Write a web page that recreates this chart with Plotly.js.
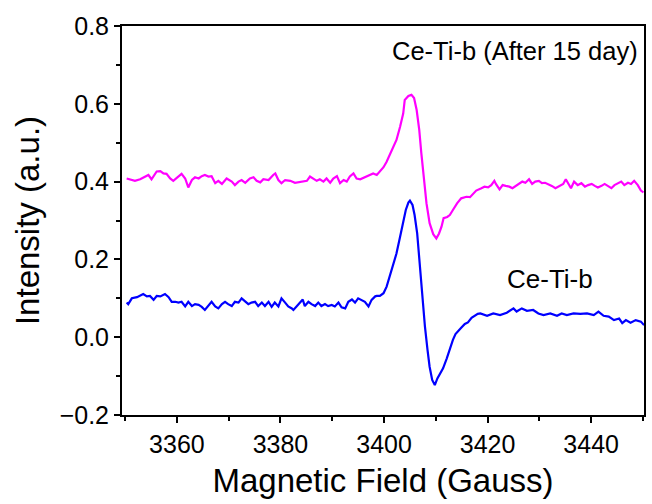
<!DOCTYPE html>
<html>
<head>
<meta charset="utf-8">
<script src="https://cdn.plot.ly/plotly-3.0.1.min.js"></script>
<style>html,body{margin:0;padding:0;background:#fff;}#chart{width:652px;height:504px;}</style>
</head>
<body>
<div id="chart"></div>
<script>
// Ce-Ti-b (After 15 day) — magenta trace
const fieldAfter = [3350.3,3351.3,3351.9,3352.9,3353.9,3354.5,3355.1,3356.1,3356.8,3357.4,3358.0,3358.7,3359.3,3360.3,3360.9,3361.6,3362.2,3362.9,3363.5,3364.2,3364.8,3365.4,3366.1,3366.7,3367.4,3368.0,3368.7,3369.6,3370.6,3371.2,3371.9,3372.5,3373.2,3374.1,3374.8,3375.4,3376.1,3376.7,3377.7,3378.6,3379.0,3379.6,3380.2,3380.9,3381.9,3382.8,3384.1,3385.1,3385.7,3386.4,3387.0,3387.6,3388.3,3388.9,3389.6,3390.2,3390.9,3391.5,3392.2,3392.8,3393.4,3394.1,3394.7,3395.4,3396.3,3397.3,3397.9,3398.6,3399.2,3399.9,3400.5,3401.1,3401.8,3402.4,3403.1,3403.7,3404.0,3404.7,3405.3,3405.8,3406.3,3406.8,3407.2,3407.7,3408.2,3408.8,3409.5,3410.1,3410.6,3411.1,3411.5,3412.2,3412.7,3413.3,3414.1,3414.9,3415.9,3416.6,3417.2,3417.8,3418.8,3419.4,3420.1,3420.7,3421.3,3421.6,3422.3,3422.9,3423.5,3424.2,3424.8,3425.4,3426.1,3426.7,3427.3,3428.0,3428.6,3429.2,3429.9,3430.5,3431.1,3431.7,3432.4,3433.1,3434.0,3434.6,3435.1,3435.6,3436.1,3436.7,3437.4,3438.1,3438.8,3439.4,3440.1,3440.7,3441.3,3442.0,3442.6,3443.2,3443.9,3444.5,3445.1,3445.8,3446.4,3447.1,3447.7,3448.3,3449.0,3449.6,3450.1];
const intensityAfter = [0.408,0.404,0.402,0.406,0.413,0.417,0.406,0.426,0.427,0.421,0.420,0.408,0.402,0.414,0.420,0.408,0.385,0.404,0.411,0.408,0.414,0.417,0.413,0.414,0.396,0.402,0.394,0.408,0.400,0.391,0.400,0.404,0.397,0.408,0.411,0.402,0.398,0.406,0.404,0.417,0.421,0.404,0.396,0.404,0.402,0.397,0.400,0.402,0.413,0.406,0.402,0.406,0.400,0.408,0.397,0.408,0.414,0.396,0.404,0.400,0.413,0.421,0.408,0.406,0.411,0.417,0.421,0.417,0.425,0.437,0.451,0.468,0.490,0.507,0.541,0.575,0.610,0.620,0.623,0.615,0.584,0.533,0.473,0.404,0.344,0.293,0.265,0.254,0.266,0.284,0.306,0.309,0.314,0.327,0.344,0.357,0.361,0.360,0.370,0.377,0.383,0.387,0.385,0.391,0.402,0.394,0.380,0.391,0.389,0.387,0.383,0.389,0.394,0.400,0.397,0.406,0.394,0.400,0.402,0.396,0.397,0.394,0.389,0.383,0.389,0.394,0.406,0.394,0.383,0.400,0.391,0.396,0.387,0.391,0.394,0.389,0.385,0.389,0.394,0.389,0.383,0.391,0.396,0.400,0.391,0.397,0.394,0.402,0.391,0.377,0.372];

// Ce-Ti-b — blue trace
const fieldFresh = [3350.3,3350.6,3351.3,3352.3,3353.5,3354.2,3354.8,3355.5,3356.1,3356.8,3357.7,3358.4,3359.0,3359.7,3360.3,3360.9,3361.6,3362.2,3362.9,3363.5,3364.2,3364.8,3365.4,3366.1,3366.7,3367.4,3368.0,3368.7,3369.3,3369.9,3370.6,3371.2,3371.9,3372.5,3373.2,3373.8,3374.4,3375.1,3375.7,3376.4,3377.0,3377.7,3378.3,3378.9,3379.6,3380.2,3380.9,3381.5,3382.2,3382.5,3383.1,3383.8,3384.3,3384.7,3385.4,3386.0,3386.7,3387.3,3387.9,3388.6,3389.2,3389.9,3390.5,3391.2,3391.8,3392.5,3393.1,3393.8,3394.4,3395.0,3395.7,3396.3,3397.0,3397.6,3398.3,3398.6,3399.2,3399.9,3400.5,3401.1,3401.8,3402.4,3403.1,3403.7,3404.2,3404.7,3405.0,3405.5,3405.9,3406.4,3406.9,3407.4,3407.9,3408.4,3408.8,3409.3,3409.8,3410.3,3410.8,3411.4,3412.1,3412.7,3413.3,3413.8,3414.5,3414.9,3415.6,3416.2,3416.9,3417.5,3418.1,3418.6,3419.9,3421.1,3422.4,3423.7,3425.0,3425.6,3426.6,3427.6,3428.8,3429.8,3430.8,3432.1,3433.4,3434.3,3435.3,3436.6,3437.9,3439.2,3440.5,3441.4,3442.4,3443.4,3444.4,3445.4,3446.0,3446.7,3447.6,3448.6,3449.6,3450.2];
const intensityFresh = [0.089,0.085,0.100,0.103,0.111,0.105,0.106,0.096,0.106,0.105,0.111,0.103,0.091,0.091,0.089,0.091,0.079,0.091,0.080,0.085,0.083,0.078,0.070,0.080,0.091,0.079,0.074,0.085,0.091,0.085,0.080,0.091,0.089,0.100,0.091,0.085,0.089,0.091,0.080,0.089,0.080,0.091,0.078,0.089,0.079,0.100,0.089,0.079,0.074,0.070,0.079,0.091,0.097,0.080,0.091,0.085,0.080,0.089,0.080,0.085,0.080,0.083,0.079,0.089,0.077,0.074,0.091,0.097,0.089,0.100,0.096,0.091,0.079,0.096,0.105,0.106,0.106,0.113,0.130,0.156,0.190,0.215,0.258,0.293,0.327,0.346,0.351,0.340,0.314,0.267,0.181,0.096,0.027,-0.033,-0.076,-0.110,-0.123,-0.106,-0.093,-0.080,-0.055,-0.030,-0.007,0.008,0.017,0.024,0.034,0.038,0.050,0.054,0.060,0.061,0.055,0.061,0.057,0.063,0.074,0.066,0.074,0.068,0.070,0.061,0.057,0.061,0.055,0.061,0.057,0.061,0.060,0.061,0.057,0.066,0.055,0.053,0.044,0.048,0.036,0.044,0.037,0.044,0.040,0.031];

const labelAfter = "Ce-Ti-b (After 15 day)";
const labelFresh = "Ce-Ti-b";
const xTitle = "Magnetic Field (Gauss)";
const yTitle = "Intensity (a.u.)";

const FONT = "Liberation Sans, Arial, sans-serif";

const traces = [
  {x: fieldAfter, y: intensityAfter, mode: "lines", line: {color: "#ff00ff", width: 2.2}, name: labelAfter},
  {x: fieldFresh, y: intensityFresh, mode: "lines", line: {color: "#0000ff", width: 2.2}, name: labelFresh}
];

const axisCommon = {
  showgrid: false, zeroline: false,
  showline: true, linecolor: "#000", linewidth: 2, mirror: true,
  ticks: "outside", ticklen: 6, tickwidth: 2, tickcolor: "#000",
  tickfont: {family: FONT, size: 25, color: "#000"}
};

const layout = {
  width: 652, height: 504,
  margin: {l: 122, r: 8, t: 26, b: 89, pad: 0},
  paper_bgcolor: "#fff", plot_bgcolor: "#fff",
  showlegend: false,
  font: {family: FONT, color: "#000"},
  xaxis: Object.assign({}, axisCommon, {
    range: [3349.4, 3450.2], tick0: 3360, dtick: 20,
    minor: {ticks: "outside", ticklen: 4, tickwidth: 2, tickcolor: "#000", dtick: 10, tick0: 3350},
    title: {text: xTitle, font: {family: FONT, size: 33, color: "#000"}, standoff: 12}
  }),
  yaxis: Object.assign({}, axisCommon, {
    range: [-0.2, 0.8], tick0: 0, dtick: 0.2, tickformat: ".1f",
    minor: {ticks: "outside", ticklen: 4, tickwidth: 2, tickcolor: "#000", dtick: 0.1},
    title: {text: yTitle, font: {family: FONT, size: 33, color: "#000"}, standoff: 10}
  }),
  annotations: [
    {x: 3449.5, y: 0.735, xref: "x", yref: "y", text: labelAfter, showarrow: false,
     xanchor: "right", yanchor: "middle", font: {family: FONT, size: 25.5, color: "#000"}},
    {x: 3432.0, y: 0.15, xref: "x", yref: "y", text: labelFresh, showarrow: false,
     xanchor: "center", yanchor: "middle", font: {family: FONT, size: 26, color: "#000"}}
  ]
};

Plotly.newPlot("chart", traces, layout, {displayModeBar: false, staticPlot: true});
</script>
</body>
</html>
